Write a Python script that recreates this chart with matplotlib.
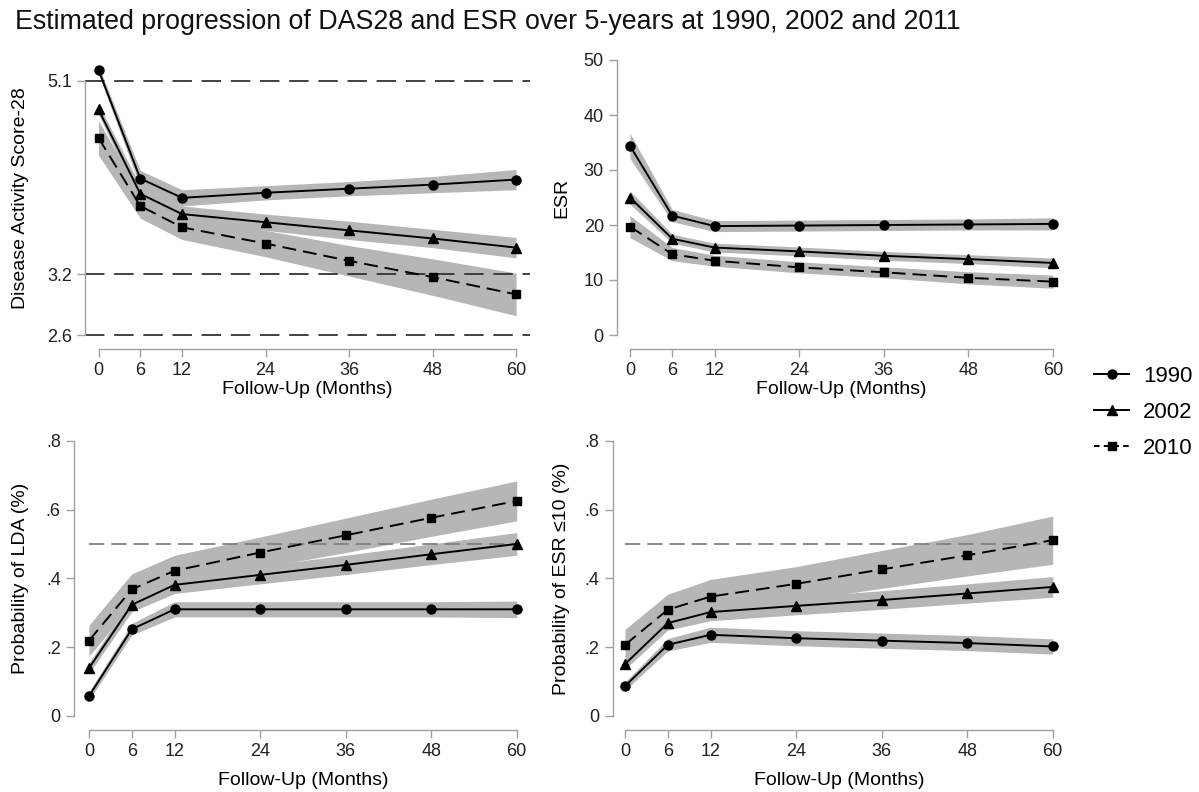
import numpy as np
import matplotlib
matplotlib.use("Agg")
import matplotlib.pyplot as plt
from matplotlib.lines import Line2D

plt.rcParams['font.family'] = ['Liberation Sans', 'DejaVu Sans']
plt.rcParams['lines.scale_dashes'] = False

# follow-up months
months = [0, 6, 12, 24, 36, 48, 60]
years = ['1990', '2002', '2010']

# DAS28 estimates and CI half-widths
das_1990 = [5.21, 4.14, 3.95, 4.00, 4.04, 4.08, 4.13]
das_2002 = [4.82, 3.99, 3.79, 3.71, 3.63, 3.55, 3.46]
das_2010 = [4.54, 3.87, 3.66, 3.50, 3.33, 3.17, 3.00]
das_1990_ci = [0.04, 0.08, 0.08, 0.07, 0.07, 0.08, 0.10]
das_2002_ci = [0.05, 0.08, 0.08, 0.08, 0.09, 0.09, 0.10]
das_2010_ci = [0.17, 0.12, 0.12, 0.13, 0.15, 0.18, 0.21]

# ESR estimates
esr_1990 = [34.4, 21.7, 19.8, 19.9, 20.0, 20.1, 20.2]
esr_2002 = [25.0, 17.5, 15.9, 15.2, 14.4, 13.8, 13.1]
esr_2010 = [19.7, 14.7, 13.5, 12.3, 11.4, 10.4, 9.7]
esr_1990_ci = [2.3, 1.1, 1.0, 1.0, 1.0, 1.0, 1.1]
esr_2002_ci = [1.2, 0.8, 0.8, 0.8, 0.8, 0.8, 0.9]
esr_2010_ci = [2.0, 1.2, 1.0, 1.0, 1.0, 1.1, 1.2]

# probability of LDA
lda_1990 = [0.058, 0.252, 0.310, 0.310, 0.310, 0.310, 0.310]
lda_2002 = [0.139, 0.323, 0.381, 0.410, 0.439, 0.470, 0.500]
lda_2010 = [0.219, 0.368, 0.422, 0.475, 0.525, 0.576, 0.625]
lda_1990_ci = [0.012, 0.017, 0.022, 0.022, 0.022, 0.022, 0.024]
lda_2002_ci = [0.015, 0.020, 0.025, 0.026, 0.028, 0.030, 0.033]
lda_2010_ci = [0.045, 0.045, 0.045, 0.045, 0.050, 0.054, 0.058]

# probability of ESR <= 10
pesr_1990 = [0.087, 0.207, 0.236, 0.226, 0.219, 0.212, 0.202]
pesr_2002 = [0.151, 0.270, 0.302, 0.320, 0.337, 0.356, 0.375]
pesr_2010 = [0.207, 0.309, 0.347, 0.384, 0.426, 0.467, 0.511]
pesr_1990_ci = [0.012, 0.018, 0.022, 0.022, 0.022, 0.022, 0.022]
pesr_2002_ci = [0.015, 0.020, 0.025, 0.026, 0.027, 0.028, 0.030]
pesr_2010_ci = [0.045, 0.045, 0.050, 0.050, 0.055, 0.060, 0.070]

W, H = 1199, 792
fig = plt.figure(figsize=(W / 100, H / 100), dpi=100)

band = '#b6b6b6'
axis_grey = '#a0a0a0'
styles = [dict(marker='o', ms=6.5, ls='-'),
          dict(marker='^', ms=7, ls='-'),
          dict(marker='s', ms=6, ls=(0, (10, 5)))]


def make_ax(left, right, top, bottom, xlim, ylim):
    # pixel box -> figure fraction
    ax = fig.add_axes([left / W, 1 - bottom / H, (right - left) / W, (bottom - top) / H])
    ax.set_xlim(xlim)
    ax.set_ylim(ylim)
    ax.patch.set_visible(False)
    for s in ['top', 'right']:
        ax.spines[s].set_visible(False)
    for s in ['left', 'bottom']:
        ax.spines[s].set_color(axis_grey)
        ax.spines[s].set_linewidth(1.0)
    ax.spines['bottom'].set_position(('outward', 10))
    ax.spines['bottom'].set_bounds(0, 60)
    ax.set_xticks(months)
    ax.tick_params(colors=axis_grey, labelcolor='#222222', labelsize=13,
                   length=6, width=1.0, pad=3.5)
    return ax


def draw(ax, series, cis):
    for vals, ci in zip(series, cis):
        v = np.array(vals)
        c = np.array(ci)
        ax.fill_between(months, v - c, v + c, color=band, lw=0, zorder=1)
    for vals, st in zip(series, styles):
        ax.plot(months, vals, color='black', lw=1.4, marker=st['marker'],
                ms=st['ms'], ls=st['ls'], zorder=3, clip_on=False)


def labels(ax, ylab, lx, xy):
    ax.set_xlabel('Follow-Up (Months)', fontsize=14, va='center')
    ax.set_ylabel(ylab, fontsize=14, va='center')
    x0, x1 = ax.get_xlim()
    ax.xaxis.set_label_coords((30 - x0) / (x1 - x0), xy)
    ax.yaxis.set_label_coords(lx, 0.5)


# top-left: DAS28
ax1 = make_ax(85, 530, 62, 335, (-1.94, 62.0), (2.6, 5.287))
draw(ax1, [das_1990, das_2002, das_2010], [das_1990_ci, das_2002_ci, das_2010_ci])
for yv in [5.1, 3.2, 2.6]:
    ax1.axhline(yv, color='#333333', lw=1.3, ls=(0, (14, 7)), zorder=2, clip_on=False)
ax1.spines['left'].set_bounds(2.6, 5.1)
ax1.set_yticks([2.6, 3.2, 5.1])
ax1.set_yticklabels(['2.6', '3.2', '5.1'])
labels(ax1, 'Disease Activity Score-28', -0.146, -0.2)

# top-right: ESR
ax2 = make_ax(617, 1067, 60, 335, (-1.84, 62.0), (0, 50))
draw(ax2, [esr_1990, esr_2002, esr_2010], [esr_1990_ci, esr_2002_ci, esr_2010_ci])
ax2.set_yticks([0, 10, 20, 30, 40, 50])
labels(ax2, 'ESR', -0.122, -0.2)

# bottom-left: probability of LDA
prob_ticks = [0, 0.2, 0.4, 0.6, 0.8]
prob_labels = ['0', '.2', '.4', '.6', '.8']
ax3 = make_ax(74, 531, 440.7, 716, (-2.10, 62.0), (0, 0.8))
draw(ax3, [lda_1990, lda_2002, lda_2010], [lda_1990_ci, lda_2002_ci, lda_2010_ci])
ax3.hlines(0.5, 0, 60, color='#808080', lw=1.3, ls=(0, (11, 5)), zorder=2)
ax3.set_yticks(prob_ticks)
ax3.set_yticklabels(prob_labels)
labels(ax3, 'Probability of LDA (%)', -0.118, -0.236)

# bottom-right: probability of ESR <= 10
ax4 = make_ax(612.7, 1067, 440.7, 716, (-1.73, 62.0), (0, 0.8))
draw(ax4, [pesr_1990, pesr_2002, pesr_2010], [pesr_1990_ci, pesr_2002_ci, pesr_2010_ci])
ax4.hlines(0.5, 0, 60, color='#808080', lw=1.3, ls=(0, (11, 5)), zorder=2)
ax4.set_yticks(prob_ticks)
ax4.set_yticklabels(prob_labels)
labels(ax4, 'Probability of ESR \u226410 (%)', -0.112, -0.236)

# legend (shorter dashes so the 2010 key reads as dashed)
leg_ls = ['-', '-', (0, (4, 3))]
handles = [Line2D([], [], color='black', lw=1.4, marker=st['marker'], ms=st['ms'], ls=ls)
           for st, ls in zip(styles, leg_ls)]
fig.legend(handles, years, loc='upper left', bbox_to_anchor=(1085 / W, 1 - 357 / H),
           frameon=False, fontsize=16, numpoints=1, handlelength=1.6,
           handletextpad=0.6, labelspacing=0.68, borderaxespad=0)

fig.text(15 / W, 1 - 22 / H,
         'Estimated progression of DAS28 and ESR over 5-years at 1990, 2002 and 2011',
         fontsize=19.3, ha='left', va='center', color='#111111')

fig.savefig('out.png', dpi=100)
